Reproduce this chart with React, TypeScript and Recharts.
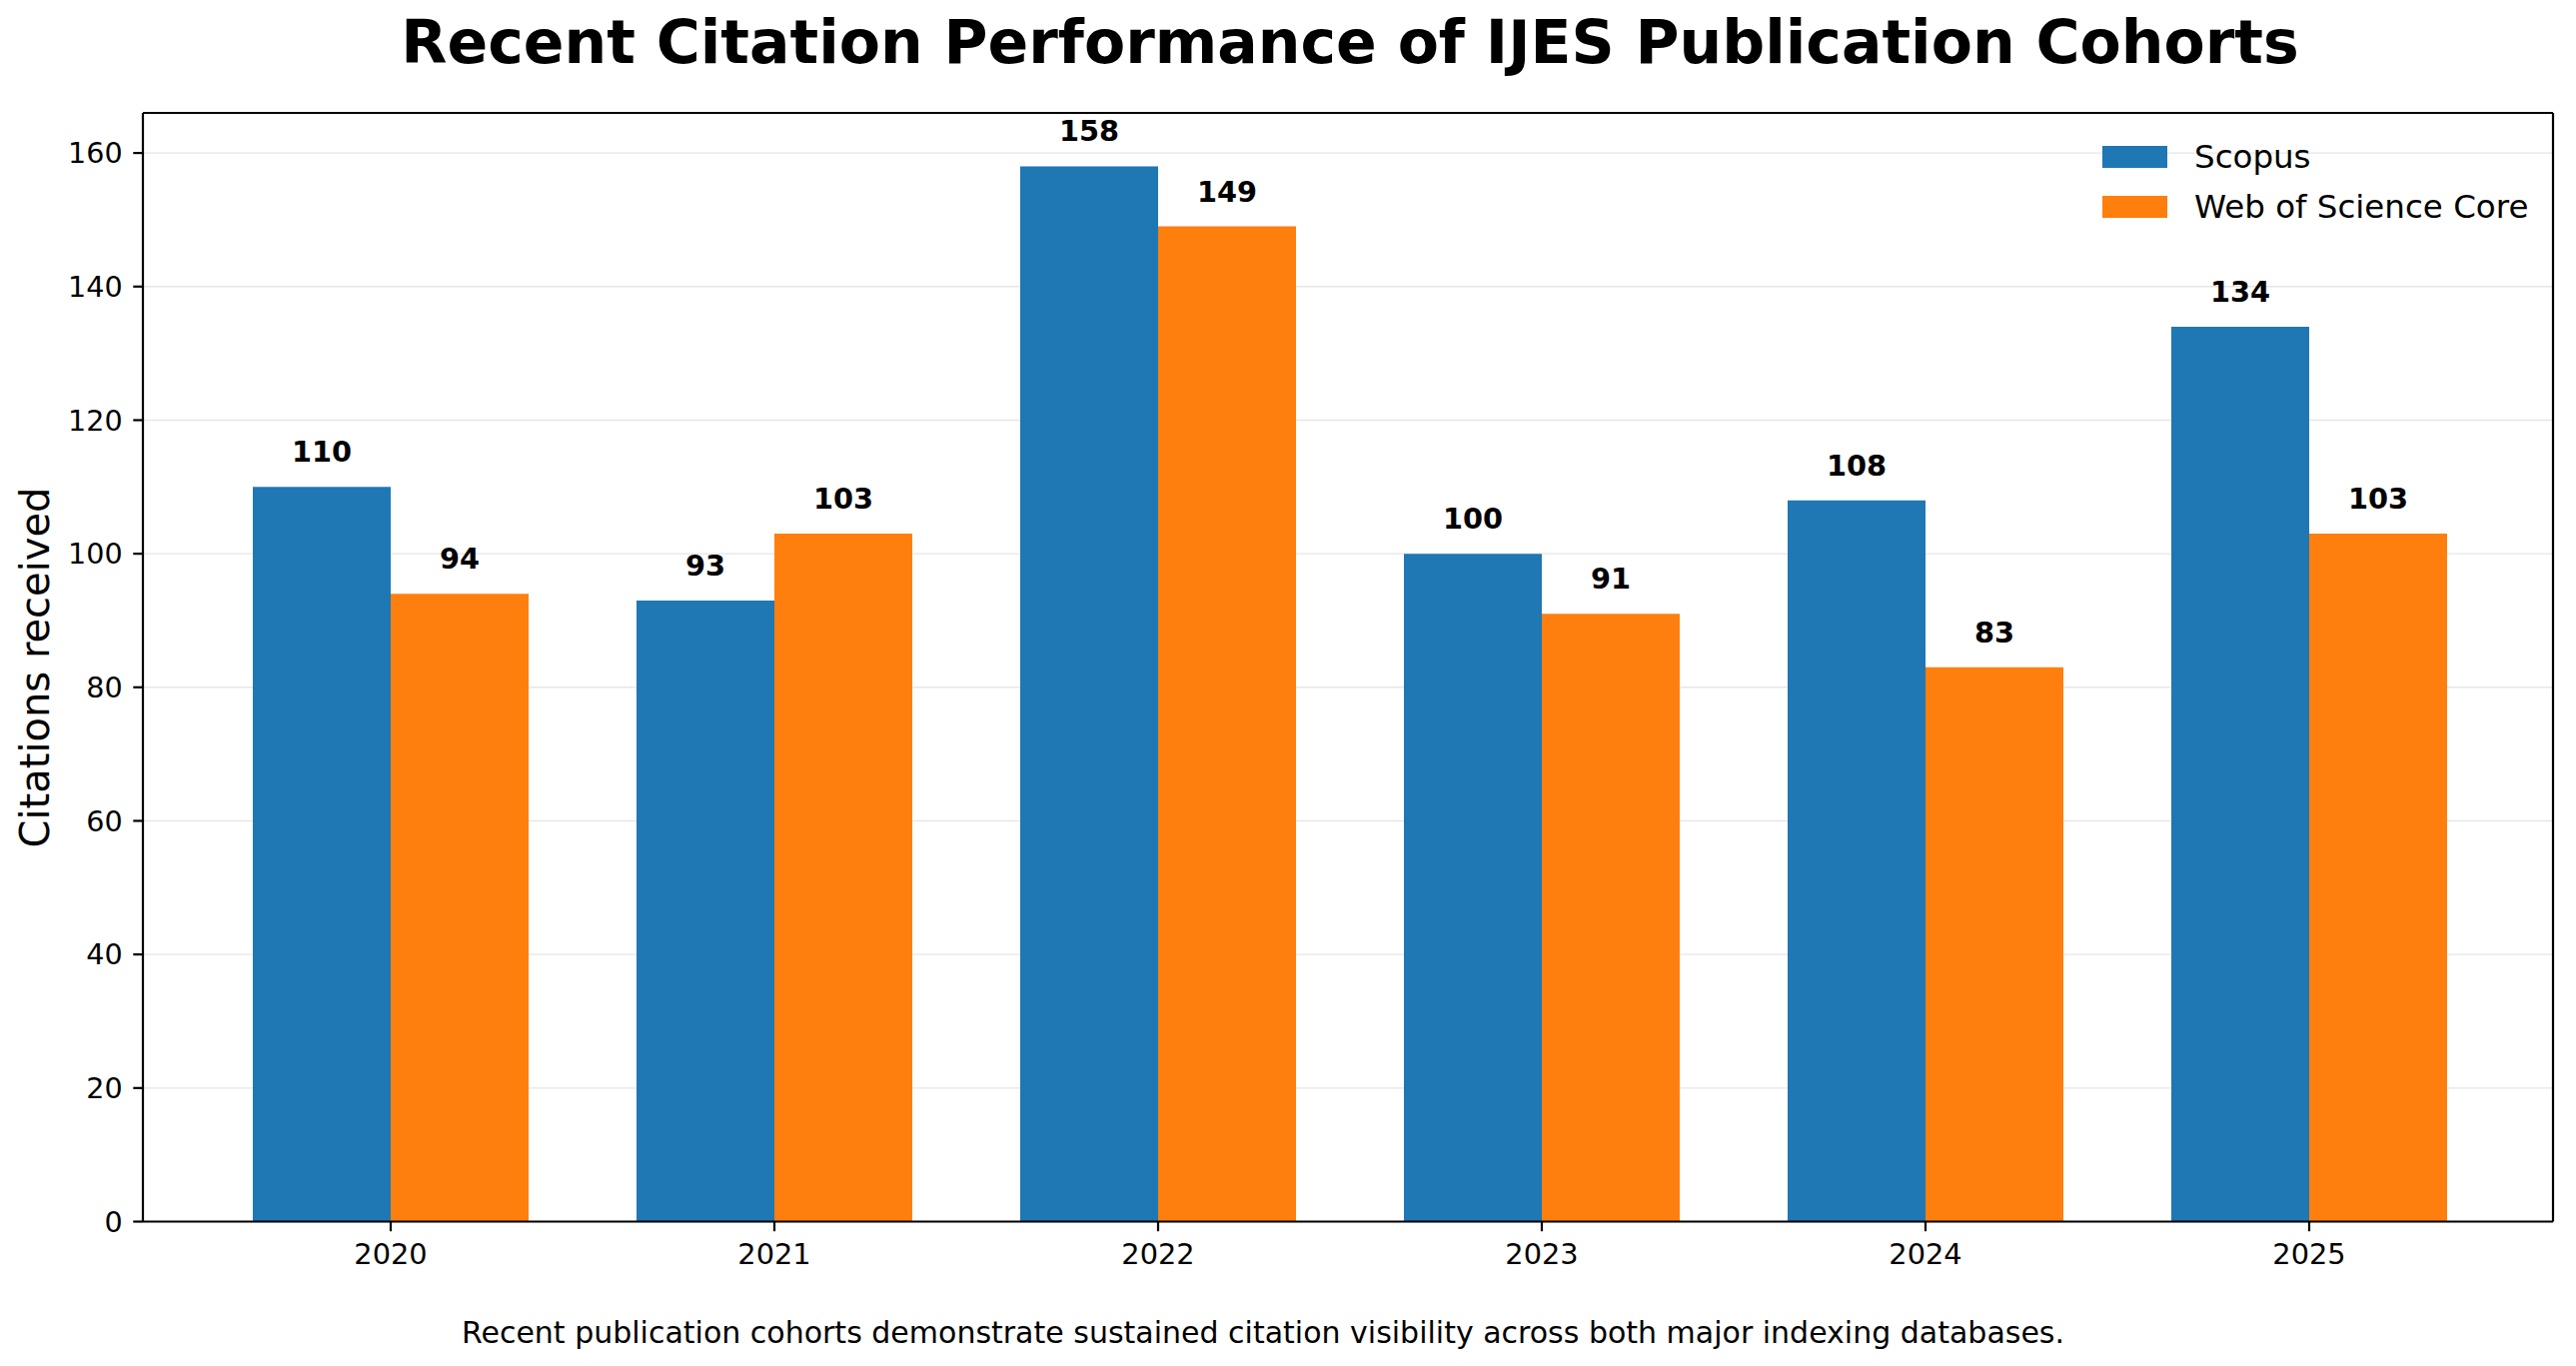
import React from 'react';
import { BarChart, Bar, XAxis, YAxis, CartesianGrid, Legend, LabelList } from 'recharts';

// cohort years and citation counts
const years = ['2020', '2021', '2022', '2023', '2024', '2025'];
const scopus = [110, 93, 158, 100, 108, 134];
const webOfScience = [94, 103, 149, 91, 83, 103];
const yTicks = [0, 20, 40, 60, 80, 100, 120, 140, 160];

const seriesNames = { scopus: 'Scopus', wos: 'Web of Science Core' };

const data = years.map((year, i) => ({ year, scopus: scopus[i], wos: webOfScience[i] }));

const FONT = '"DejaVu Sans", Verdana, sans-serif';
const W = 2578;
const H = 1367;

const renderLegend = (props: any) => {
  const { payload = [] } = props;
  return (
    <div style={{ fontFamily: FONT, fontSize: 32.5, color: '#000' }}>
      {payload.map((item: any) => (
        <div key={item.value} style={{ display: 'flex', alignItems: 'center', height: 49.5, whiteSpace: 'nowrap' }}>
          <span style={{ display: 'inline-block', width: 65, height: 22, background: item.color, marginRight: 27 }} />
          <span>{item.value}</span>
        </div>
      ))}
    </div>
  );
};

export default function App() {
  return (
    <div style={{ position: 'absolute', left: 0, top: 0, width: W, height: H, background: '#fff' }}>
      <BarChart
        width={W}
        height={H}
        data={data}
        margin={{ top: 0, right: 0, bottom: 0, left: 0 }}
        barGap={0}
        style={{ fontFamily: FONT }}
      >
        <CartesianGrid vertical={false} stroke="#e6e6e6" strokeWidth={1.4} />
        <XAxis
          dataKey="year"
          interval={0}
          height={144.5}
          padding={{ left: 56, right: 52 }}
          axisLine={{ stroke: '#000', strokeWidth: 2.2 }}
          tickLine={{ stroke: '#000', strokeWidth: 2.2 }}
          tickSize={9.7}
          tickMargin={12}
          tick={{ fill: '#000', fontSize: 28.8, fontFamily: FONT }}
        />
        <XAxis
          xAxisId="top"
          dataKey="year"
          orientation="top"
          height={113}
          tick={false}
          tickLine={false}
          axisLine={{ stroke: '#000', strokeWidth: 2.2 }}
        />
        <YAxis
          width={143}
          domain={[0, 166]}
          ticks={yTicks}
          interval={0}
          axisLine={{ stroke: '#000', strokeWidth: 2.2 }}
          tickLine={{ stroke: '#000', strokeWidth: 2.2 }}
          tickSize={9.7}
          tickMargin={10.6}
          tick={{ fill: '#000', fontSize: 28.6, fontFamily: FONT }}
        />
        <YAxis
          yAxisId="right"
          orientation="right"
          width={23}
          domain={[0, 166]}
          tick={false}
          tickLine={false}
          axisLine={{ stroke: '#000', strokeWidth: 2.2 }}
        />
        <Legend
          layout="vertical"
          align="center"
          verticalAlign="middle"
          content={renderLegend}
          wrapperStyle={{ left: 2104, top: 132.25, width: 'auto', height: 'auto' }}
        />
        <Bar dataKey="scopus" name={seriesNames.scopus} fill="#1f77b4" barSize={138} isAnimationActive={false}>
          <LabelList
            dataKey="scopus"
            position="top"
            offset={25}
            fill="#000"
            fontSize={28.8}
            fontWeight="bold"
            fontFamily={FONT}
          />
        </Bar>
        <Bar dataKey="wos" name={seriesNames.wos} fill="#ff7f0e" barSize={138} isAnimationActive={false}>
          <LabelList
            dataKey="wos"
            position="top"
            offset={25}
            fill="#000"
            fontSize={28.8}
            fontWeight="bold"
            fontFamily={FONT}
          />
        </Bar>
      </BarChart>
      <svg
        width={W}
        height={H}
        style={{ position: 'absolute', left: 0, top: 0, pointerEvents: 'none', fontFamily: FONT }}
      >
        <text x={1351} y={63} textAnchor="middle" fontSize={60} fontWeight="bold" fill="#000">
          Recent Citation Performance of IJES Publication Cohorts
        </text>
        <text x={49} y={668} transform="rotate(-90, 49, 668)" textAnchor="middle" fontSize={40} fill="#000">
          Citations received
        </text>
        <text x={1264} y={1344} textAnchor="middle" fontSize={30} fill="#000">
          Recent publication cohorts demonstrate sustained citation visibility across both major indexing databases.
        </text>
      </svg>
    </div>
  );
}
